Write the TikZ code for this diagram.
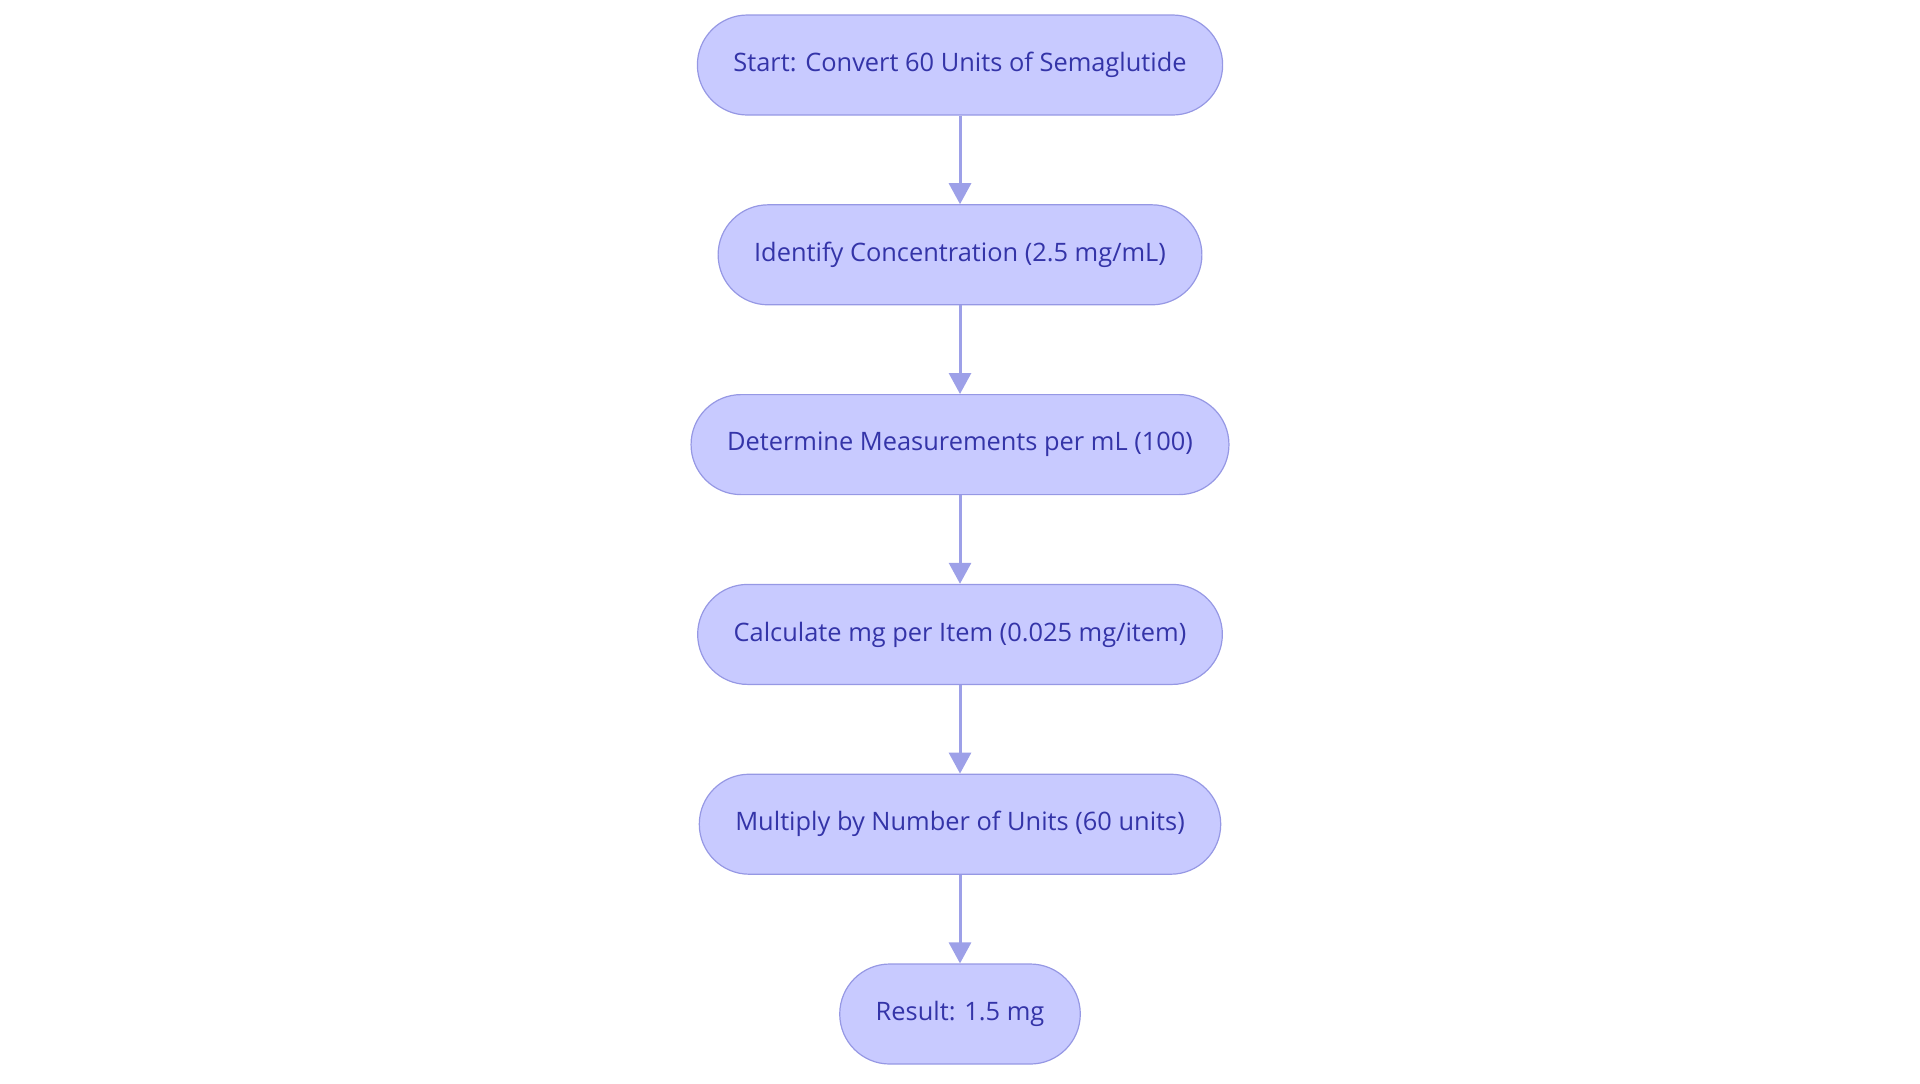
\documentclass[tikz,border=0pt]{standalone}
\usepackage{fontspec}
\setmainfont{Open Sans}
\usepackage{tikz}
\usetikzlibrary{positioning,arrows.meta}
\definecolor{stepfill}{RGB}{200,202,255}
\definecolor{stepline}{RGB}{150,152,228}
\definecolor{steptext}{RGB}{52,52,168}
\definecolor{flowline}{RGB}{157,160,232}

\begin{document}
\begin{tikzpicture}[node distance=44.3pt, every node/.style = {shape=rectangle, rounded corners=25pt, draw=stepline, line width=0.6pt, fill=stepfill, text=steptext, font=\fontsize{12.7pt}{15pt}\selectfont, minimum height=50pt, inner xsep=18pt}, flow/.style = {draw=flowline, line width=1.5pt, -{Triangle[width=11pt,length=10.5pt]}}]
  \useasboundingbox (0,0) rectangle (960pt,-541.5pt);
  \node (start) at (480pt,-32.5pt) {Start: Convert 60 Units of Semaglutide};
  \node[below=of start] (conc) {Identify Concentration (2.5 mg/mL)};
  \node[below=of conc] (meas) {Determine Measurements per mL (100)};
  \node[below=of meas] (calc) {Calculate mg per Item (0.025 mg/item)};
  \node[below=of calc] (mult) {Multiply by Number of Units (60 units)};
  \node[below=of mult] (result) {Result: 1.5 mg};
  \draw[flow] (start) -- (conc);
  \draw[flow] (conc) -- (meas);
  \draw[flow] (meas) -- (calc);
  \draw[flow] (calc) -- (mult);
  \draw[flow] (mult) -- (result);
\end{tikzpicture}
\end{document}
